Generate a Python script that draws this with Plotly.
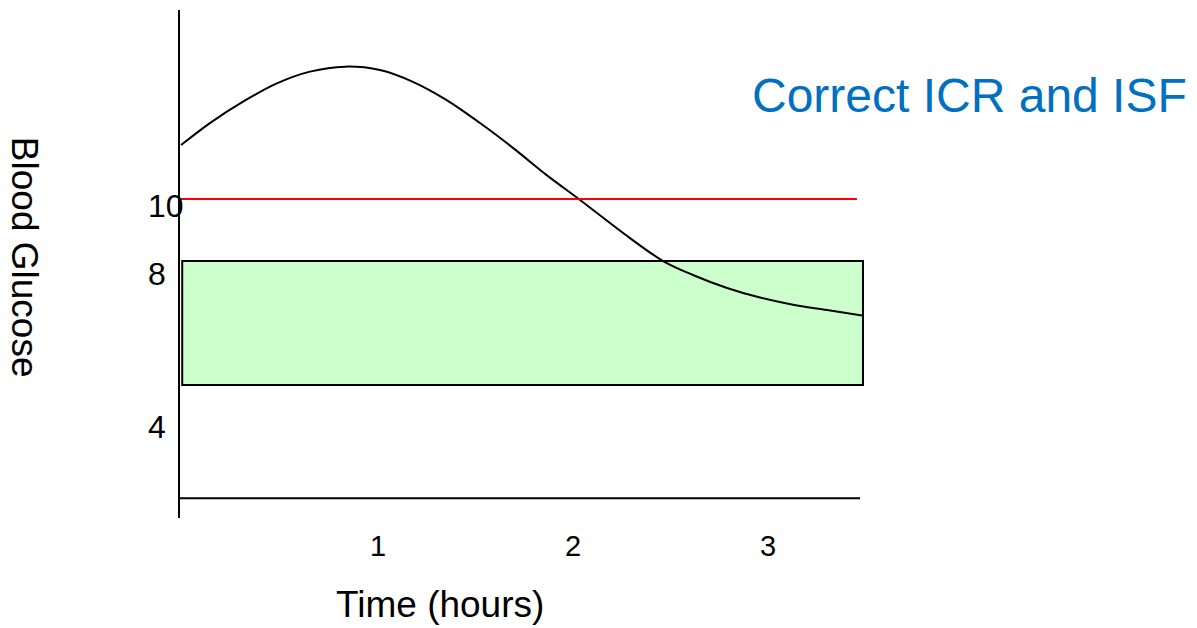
import plotly.graph_objects as go

# ---- data ----
time_h = [-0.01, 0.138, 0.308, 0.481, 0.651, 0.831, 1.010, 1.179, 1.352, 1.523,
          1.692, 1.865, 2.036, 2.292, 2.462, 2.615, 2.790, 2.959, 3.128, 3.303, 3.482]
glucose = [11.74, 12.45, 13.14, 13.73, 14.11, 14.27, 14.16, 13.78, 13.19, 12.45,
           11.65, 10.77, 9.97, 8.74, 8.0, 7.55, 7.13, 6.82, 6.59, 6.42, 6.24]

x_ticks = [1, 2, 3]
x_tick_labels = ["1", "2", "3"]
y_tick_values = [10, 8, 4]
y_tick_labels = ["10", "8", "4"]

threshold = 10            # red line
target_low, target_high = 4, 8   # green target band
band_x = [-0.004, 3.487]
threshold_x = [-0.01, 3.456]
baseline_y = 0.345
baseline_x = [-0.0154, 3.472]

title_text = "Correct ICR and ISF"
x_title = "Time (hours)"
y_title = "Blood Glucose"

FONT = "Liberation Sans, Arial, sans-serif"

fig = go.Figure()

# target band
fig.add_shape(type="rect", xref="x", yref="y",
              x0=band_x[0], x1=band_x[1], y0=target_low, y1=target_high,
              fillcolor="#CCFFCC", line=dict(color="black", width=2), layer="below")
# threshold line
fig.add_shape(type="line", xref="x", yref="y",
              x0=threshold_x[0], x1=threshold_x[1], y0=threshold, y1=threshold,
              line=dict(color="#FF0000", width=2))
# horizontal axis line
fig.add_shape(type="line", xref="x", yref="y",
              x0=baseline_x[0], x1=baseline_x[1], y0=baseline_y, y1=baseline_y,
              line=dict(color="black", width=2))

fig.add_trace(go.Scatter(x=time_h, y=glucose, mode="lines",
                         line=dict(color="black", width=2, shape="spline"),
                         hoverinfo="skip", showlegend=False))

# y tick labels (hand-placed in the original slide)
y_shifts = [-7, -13, -41.5]
for v, lab, ys in zip(y_tick_values, y_tick_labels, y_shifts):
    fig.add_annotation(x=0, xref="paper", y=v, yref="y", text=lab, showarrow=False,
                       xanchor="left", yanchor="middle", xshift=-34, yshift=ys,
                       font=dict(family=FONT, size=32, color="black"))

fig.add_annotation(x=0.377, xref="paper", y=0, yref="paper", text=x_title,
                   showarrow=False, xanchor="center", yanchor="middle", yshift=-86,
                   font=dict(family=FONT, size=37, color="black"))
fig.add_annotation(x=-0.226, xref="paper", y=0.514, yref="paper", text=y_title,
                   showarrow=False, xanchor="center", yanchor="middle", textangle=90,
                   font=dict(family=FONT, size=37, color="black"))
fig.add_annotation(x=1.1435, xref="paper", y=0.832, yref="paper", text=title_text,
                   showarrow=False, xanchor="center", yanchor="middle",
                   font=dict(family=FONT, size=48, color="#0070C0"))

fig.update_layout(
    width=1197, height=628,
    margin=dict(l=180, r=327, t=10, b=110),
    paper_bgcolor="white", plot_bgcolor="white",
    showlegend=False,
    xaxis=dict(range=[-0.0154, 3.523], showgrid=False, zeroline=False, showline=False,
               tickvals=x_ticks, ticktext=x_tick_labels, ticks="",
               ticklabelstandoff=8,
               tickfont=dict(family=FONT, size=29, color="black")),
    yaxis=dict(range=[-0.290, 16.097], showgrid=False, zeroline=False,
               showline=True, linecolor="black", linewidth=2,
               showticklabels=False, ticks=""),
)

fig.write_html("out.html", config={"displayModeBar": False},
               post_script="document.body.style.margin='0';")
